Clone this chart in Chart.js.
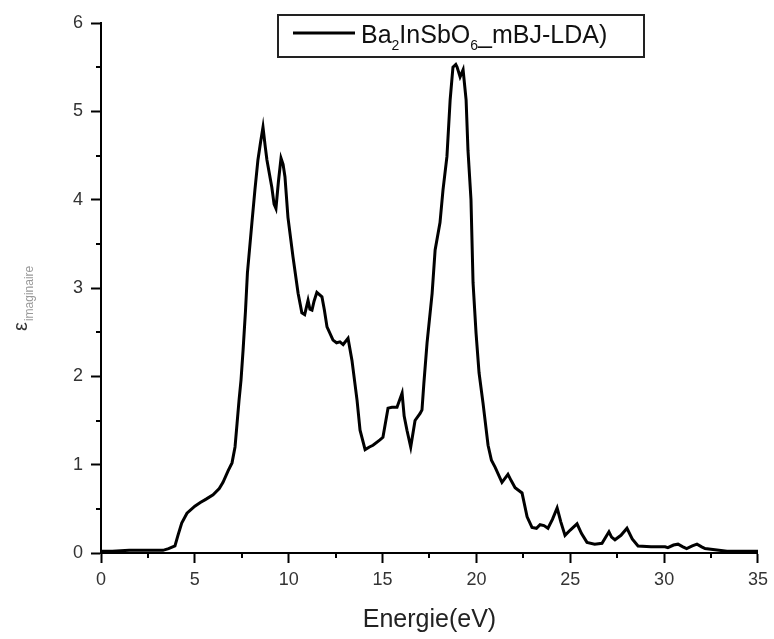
<!DOCTYPE html>
<html>
<head>
<meta charset="utf-8">
<script src="https://cdn.jsdelivr.net/npm/chart.js@4"></script>
<style>
  body { margin: 0; background: #fff; }
</style>
</head>
<body>
<canvas id="epsChart" width="774" height="639"></canvas>
<script>
// energy (eV) and imaginary part of dielectric function
var energy = [0, 0.6, 1.5, 2.5, 3.3, 3.6, 3.94, 4.1, 4.3, 4.58, 5.0, 5.27, 5.6, 5.97, 6.3, 6.5, 6.77, 6.98,
  7.14, 7.25, 7.35, 7.46, 7.57, 7.7, 7.8, 8.04, 8.2, 8.36, 8.5, 8.63, 8.75, 8.84, 9.1, 9.22, 9.32, 9.45,
  9.59, 9.7, 9.8, 9.96, 10.23, 10.5, 10.7, 10.85, 11.03, 11.13, 11.24, 11.35, 11.5, 11.77, 11.9, 12.04,
  12.36, 12.55, 12.73, 12.9, 13.16, 13.37, 13.64, 13.8, 14.07, 14.3, 14.49, 14.86, 15.02, 15.29, 15.5,
  15.77, 16.04, 16.15, 16.3, 16.5, 16.73, 17.0, 17.1, 17.2, 17.37, 17.64, 17.8, 18.06, 18.22, 18.43, 18.6,
  18.75, 18.9, 18.97, 19.13, 19.29, 19.45, 19.55, 19.71, 19.82, 19.98, 20.14, 20.35, 20.62, 20.8, 21.0,
  21.36, 21.5, 21.68, 21.85, 22.06, 22.43, 22.7, 22.96, 23.2, 23.39, 23.6, 23.81, 24.05, 24.3, 24.5, 24.72,
  25.0, 25.36, 25.6, 25.89, 26.3, 26.69, 27.06, 27.2, 27.38, 27.7, 28.02, 28.3, 28.61, 29.3, 30.05, 30.2,
  30.5, 30.74, 31.0, 31.2, 31.5, 31.75, 32.0, 32.18, 32.6, 33.35, 34.2, 35];
var epsImag = [0.02, 0.02, 0.03, 0.03, 0.03, 0.05, 0.08, 0.2, 0.34, 0.45, 0.53, 0.57, 0.61, 0.66, 0.73, 0.8, 0.93, 1.02,
  1.2, 1.47, 1.72, 1.96, 2.3, 2.75, 3.17, 3.74, 4.11, 4.45, 4.65, 4.82, 4.6, 4.45, 4.14, 3.95, 3.9, 4.2,
  4.47, 4.4, 4.26, 3.8, 3.35, 2.94, 2.72, 2.7, 2.86, 2.76, 2.75, 2.85, 2.95, 2.9, 2.75, 2.56,
  2.41, 2.38, 2.39, 2.36, 2.43, 2.18, 1.73, 1.39, 1.17, 1.2, 1.22, 1.28, 1.31, 1.64, 1.65,
  1.65, 1.81, 1.55, 1.39, 1.2, 1.5, 1.58, 1.62, 1.92, 2.38, 2.94, 3.43, 3.74, 4.11, 4.49, 5.13,
  5.5, 5.53, 5.5, 5.39, 5.47, 5.13, 4.56, 4.0, 3.06, 2.49, 2.04, 1.7, 1.22, 1.05, 0.97,
  0.8, 0.84, 0.89, 0.82, 0.74, 0.68, 0.41, 0.29, 0.28, 0.32, 0.31, 0.28, 0.38, 0.51, 0.35, 0.2,
  0.26, 0.33, 0.22, 0.12, 0.1, 0.11, 0.24, 0.18, 0.15, 0.2, 0.28, 0.16, 0.08, 0.07, 0.07, 0.06,
  0.09, 0.1, 0.07, 0.05, 0.08, 0.1, 0.07, 0.05, 0.04, 0.02, 0.02, 0.02];

var xMinorTicks = [2.5, 7.5, 12.5, 17.5, 22.5, 27.5, 32.5];
var yMinorTicks = [0.5, 1.5, 2.5, 3.5, 4.5, 5.5];

// legend text pieces: [text, isSubscript]
var legendParts = [["Ba", false], ["2", true], ["InSbO", false], ["6", true], ["_mBJ-LDA)", false]];

var points = energy.map(function (e, i) { return { x: e, y: epsImag[i] }; });

var FONT = "'Liberation Sans', Arial, sans-serif";

var minorTicks = {
  id: "minorTicks",
  afterDraw: function (chart) {
    var c = chart.ctx, xs = chart.scales.x, ys = chart.scales.y;
    c.save();
    c.strokeStyle = "#000";
    c.lineWidth = 2;
    xMinorTicks.forEach(function (v) {
      var px = Math.round(xs.getPixelForValue(v));
      c.beginPath(); c.moveTo(px, ys.bottom); c.lineTo(px, ys.bottom + 5); c.stroke();
    });
    yMinorTicks.forEach(function (v) {
      var py = Math.round(ys.getPixelForValue(v));
      c.beginPath(); c.moveTo(xs.left, py); c.lineTo(xs.left - 5, py); c.stroke();
    });
    c.restore();
  }
};

var yTitle = {
  id: "yTitle",
  afterDraw: function (chart) {
    var c = chart.ctx;
    c.save();
    c.translate(27, 331);
    c.rotate(-Math.PI / 2);
    c.fillStyle = "#333";
    c.font = "20px " + FONT;
    c.textBaseline = "alphabetic";
    c.fillText("\u03b5", 0, 0);
    var w = c.measureText("\u03b5").width;
    c.fillStyle = "#999";
    c.font = "12px " + FONT;
    c.fillText("imaginaire", w + 1, 6);
    c.restore();
  }
};

var legendBox = {
  id: "legendBox",
  afterDraw: function (chart) {
    var c = chart.ctx;
    c.save();
    c.strokeStyle = "#222";
    c.lineWidth = 2;
    c.strokeRect(278, 15, 366, 42);
    c.strokeStyle = "#000";
    c.lineWidth = 3;
    c.beginPath(); c.moveTo(293, 33); c.lineTo(355, 33); c.stroke();
    var x = 361;
    c.fillStyle = "#111";
    c.textBaseline = "alphabetic";
    legendParts.forEach(function (p) {
      c.font = (p[1] ? "14px " : "25px ") + FONT;
      c.fillText(p[0], x, p[1] ? 50 : 43);
      x += c.measureText(p[0]).width;
    });
    c.restore();
  }
};

new Chart(document.getElementById("epsChart"), {
  type: "line",
  data: {
    datasets: [{
      label: "Ba2InSbO6_mBJ-LDA)",
      data: points,
      borderColor: "#000",
      borderWidth: 3,
      pointRadius: 0,
      tension: 0,
      fill: false
    }]
  },
  options: {
    responsive: false,
    animation: false,
    layout: { padding: { top: 23, right: 16, left: 0, bottom: 0 } },
    plugins: {
      legend: { display: false },
      tooltip: { enabled: false }
    },
    scales: {
      x: {
        type: "linear",
        min: 0,
        max: 35,
        border: { color: "#000", width: 2 },
        grid: { drawOnChartArea: false, drawTicks: true, tickLength: 10, tickColor: "#000", tickWidth: 2 },
        ticks: { stepSize: 5, color: "#333", padding: 6, font: { size: 18, family: FONT } },
        title: { display: true, text: "Energie(eV)", color: "#222", font: { size: 25, family: FONT } },
        afterFit: function (s) { s.height = 86; }
      },
      y: {
        min: 0,
        max: 6,
        border: { color: "#000", width: 2 },
        grid: { drawOnChartArea: false, drawTicks: true, tickLength: 10, tickColor: "#000", tickWidth: 2 },
        ticks: { stepSize: 1, color: "#333", padding: 8, font: { size: 18, family: FONT } },
        afterFit: function (s) { s.width = 101; }
      }
    }
  },
  plugins: [minorTicks, yTitle, legendBox]
});
</script>
</body>
</html>
